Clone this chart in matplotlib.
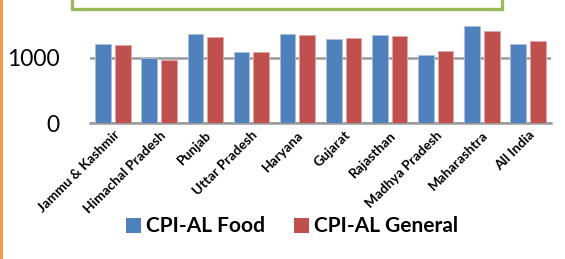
import matplotlib
matplotlib.use("Agg")
import matplotlib.pyplot as plt
import numpy as np
from matplotlib.patches import Rectangle, Patch

categories = ["Jammu & Kashmir", "Himachal Pradesh", "Punjab", "Uttar Pradesh",
              "Haryana", "Gujarat", "Rajasthan", "Madhya Pradesh", "Maharashtra", "All India"]
food = [1202, 1000, 1357, 1085, 1357, 1283, 1342, 1040, 1476, 1202]
general = [1186, 959, 1313, 1085, 1343, 1293, 1323, 1104, 1405, 1252]
series_names = ["CPI-AL Food", "CPI-AL General"]
yticks = [0, 1000, 2000]

W, H = 565, 259
fig = plt.figure(figsize=(W / 100, H / 100), dpi=100)
fig.patch.set_facecolor("white")

font = "Lato"
ax = fig.add_axes([90 / W, (H - 123.3) / H, 461 / W, 131.4 / H])
x = np.arange(len(categories))
bw = 0.34
ax.bar(x - 0.213, food, width=bw, color="#4F81BD", edgecolor="#A9C0E0", linewidth=0.6, zorder=3)
ax.bar(x + 0.213, general, width=bw, color="#C0504D", edgecolor="#E0A9A8", linewidth=0.6, zorder=3)
ax.set_xlim(-0.5, len(categories) - 0.5)
ax.set_ylim(0, 2000)
ax.set_yticks(yticks)
ax.set_yticklabels([str(v) for v in yticks], fontsize=16.5, family=font)
ax.tick_params(axis="y", length=0, pad=22)
ax.tick_params(axis="x", length=0, pad=4)
ax.set_xticks(x)
ax.set_xticklabels(categories, rotation=45, ha="right", va="top", rotation_mode="anchor",
                   fontsize=9.8, fontweight="bold", family=font)
for s in ["left", "right", "top"]:
    ax.spines[s].set_visible(False)
ax.spines["bottom"].set_color("#9A9A9A")
ax.spines["bottom"].set_linewidth(1.8)
ax.yaxis.grid(True, color="#9A9A9A", linewidth=1.8, zorder=0)
ax.set_axisbelow(True)
ax.patch.set_alpha(0)

# green title box (clipped at top)
fig.patches.append(Rectangle((72 / W, (H - 9) / H), 430 / W, 0.2, transform=fig.transFigure,
                             facecolor="white", edgecolor="#9BBB59", linewidth=2.4, zorder=5))
# orange left strip
fig.patches.append(Rectangle((0, 0), 3 / W, 1, transform=fig.transFigure,
                             facecolor="#F79646", edgecolor="none", zorder=5))

handles = [Patch(facecolor="#4F81BD", edgecolor="none"), Patch(facecolor="#C0504D", edgecolor="none")]
fig.legend(handles, series_names, loc="center", bbox_to_anchor=(292 / W, (H - 226.5) / H),
           ncol=2, frameon=False, prop={"family": font, "weight": "bold", "size": 15},
           handlelength=0.7, handleheight=0.7, handletextpad=0.25, columnspacing=1.4)

fig.savefig("out.png", dpi=100)
